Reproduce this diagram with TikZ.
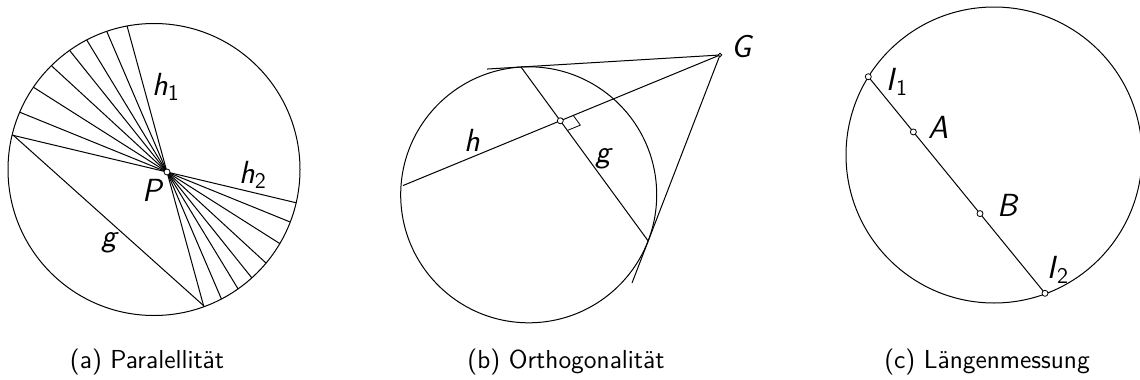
\documentclass[tikz,border=0pt]{standalone}
\usepackage{tikz}
\usetikzlibrary{calc}
\newcommand{\lbl}[2]{\textit{#1}\textsubscript{#2}}

\begin{document}
\begin{tikzpicture}[x=0.5pt,y=-0.5pt,line width=0.5pt,
  pnt/.style={circle,draw,fill=white,line width=0.4pt,inner sep=0pt,minimum size=3pt},
  lab/.style={inner sep=0pt,font=\fontsize{16}{18}\selectfont\sffamily},
  capt/.style={inner sep=0pt,font=\fontsize{13}{15}\selectfont\sffamily}]
\useasboundingbox (0,0) rectangle (1140,380);
%% (a) parallels through P
\coordinate (Ca) at (154,169.5);
\coordinate (P) at (167,172);
\coordinate (Ga) at (13,135);
\coordinate (Gb) at (204,306);
\begin{scope}
  \clip (Ca) circle (146);
  \foreach \a in {74.7,66.8,58.7,51.3,42.6,32.4,22.1,13.4}
    \draw ($(P)+(\a:-320)$) -- ($(P)+(\a:320)$);
\end{scope}
\draw (Ca) circle (146);
\draw (Ga) -- (Gb);
\node[pnt] (p) at (P) {};
\node[lab] (h1) at (166,87) {\lbl{h}{1}};
\node[lab] (h2) at (253,175) {\lbl{h}{2}};
\node[lab] (ga) at (110,243) {\textit{g}};
\node[lab] (pl) at (153,190) {\textit{P}};
\node[capt] (capa) at (147,362.5) {(a) Paralellität};
%% (b) pole G and orthogonal line
\coordinate (Cb) at (528.7,194.8);
\coordinate (G) at (720,55);
\coordinate (T1) at (521,67);
\coordinate (T2) at (648.2,241);
\coordinate (X) at ($(T1)!0.309!(T2)$);
\coordinate (E) at ($(G)!1.985!(X)$);
\draw (Cb) circle (128);
\draw (G) -- ($(G)!1.17!(T1)$);
\draw (G) -- ($(G)!1.225!(T2)$);
\draw (T1) -- (T2);
\draw (G) -- (E);
%% right angle mark
\coordinate (Xh) at ($(X)!7pt!(G)$);
\coordinate (Xg) at ($(X)!6pt!(T2)$);
\draw[line width=0.4pt] (Xh) -- ($(Xh)+(Xg)-(X)$) -- (Xg);
\node[pnt] (x) at (X) {};
\node[pnt,minimum size=1.8pt] (gp) at (G) {};
\node[lab] (gl) at (742,47) {\textit{G}};
\node[lab] (hl) at (472,140) {\textit{h}};
\node[lab] (gb) at (604,159) {\textit{g}};
\node[capt] (capb) at (566,362.5) {(b) Orthogonalität};
%% (c) length measurement
\coordinate (Cc) at (994,155);
\coordinate (I1) at (868.3,76.7);
\coordinate (I2) at (1045,293.3);
\draw (Cc) circle (148);
\draw (I1) -- (I2);
\node[pnt] (i1) at (I1) {};
\node[pnt] (i2) at (I2) {};
\node[pnt] (a) at ($(I1)!0.255!(I2)$) {};
\node[pnt] (b) at ($(I1)!0.632!(I2)$) {};
\node[lab] (i1l) at (897,82) {\lbl{I}{1}};
\node[lab] (i2l) at (1058,270) {\lbl{I}{2}};
\node[lab] (al) at (938,127) {\textit{A}};
\node[lab] (bl) at (1008,205) {\textit{B}};
\node[capt] (capc) at (987,362.5) {(c) Längenmessung};
\end{tikzpicture}
\end{document}
